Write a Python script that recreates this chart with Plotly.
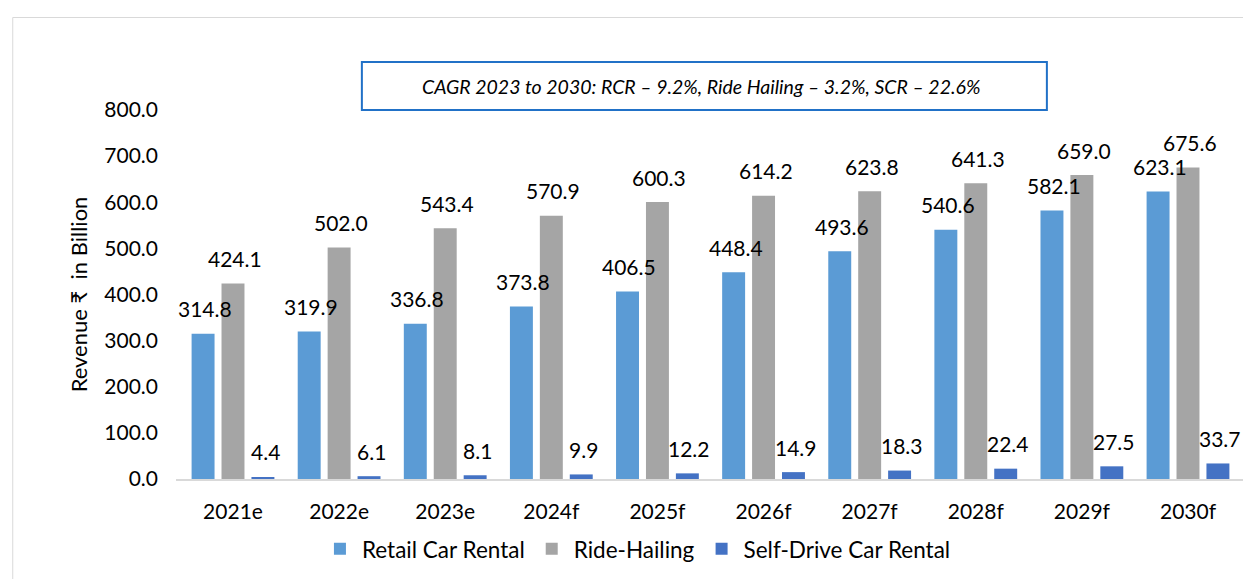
import plotly.graph_objects as go

years = ["2021e", "2022e", "2023e", "2024f", "2025f", "2026f", "2027f", "2028f", "2029f", "2030f"]
retail = [314.8, 319.9, 336.8, 373.8, 406.5, 448.4, 493.6, 540.6, 582.1, 623.1]
ride = [424.1, 502.0, 543.4, 570.9, 600.3, 614.2, 623.8, 641.3, 659.0, 675.6]
selfdrive = [4.4, 6.1, 8.1, 9.9, 12.2, 14.9, 18.3, 22.4, 27.5, 33.7]
series_names = ["Retail Car Rental", "Ride-Hailing", "Self-Drive Car Rental"]
y_ticks = [0, 100, 200, 300, 400, 500, 600, 700, 800]
cagr_text = "CAGR 2023 to 2030: RCR – 9.2%, Ride Hailing – 3.2%, SCR – 22.6%"

colors = ["#5B9BD5", "#A5A5A5", "#4472C4"]
FONT = "Lato, 'Open Sans', sans-serif"

fig = go.Figure()
all_series = [retail, ride, selfdrive]
for name, vals, col in zip(series_names, all_series, colors):
    fig.add_trace(go.Bar(x=years, y=vals, name=name, marker_color=col,
                         marker_line_width=0, hoverinfo="skip"))

annotations = []
shifts = [-30, 0, 30]
for vals, sh in zip(all_series, shifts):
    for yr, v in zip(years, vals):
        annotations.append(dict(x=yr, y=v, xref="x", yref="y", text=f"{v:.1f}",
                                showarrow=False, xshift=sh + 2, yshift=25,
                                yanchor="middle", xanchor="center",
                                font=dict(family=FONT, size=21, color="#000000")))

annotations.append(dict(x=0.4925, y=1.065, xref="paper", yref="paper", text=f"<i>{cagr_text}</i>",
                        showarrow=False, xanchor="center", yanchor="middle",
                        font=dict(family=FONT, size=19.5, color="#000000")))

# page body has an 8px margin: figure is sized/offset to compensate
fig.update_layout(
    width=1243, height=571,
    margin=dict(l=168, r=8, t=102, b=100),
    paper_bgcolor="white", plot_bgcolor="white",
    barmode="group", bargap=0.154, bargroupgap=0.233,
    font=dict(family=FONT, size=21, color="#000000"),
    showlegend=True,
    legend=dict(orientation="h", x=0.432, xanchor="center", y=-0.19, yanchor="middle",
                font=dict(family=FONT, size=22.5, color="#000000"), itemclick=False,
                itemwidth=34),
    annotations=annotations,
    shapes=[
        dict(type="rect", xref="paper", yref="paper", x0=-0.153, x1=1.02, y0=-0.30, y1=1.2507,
             line=dict(color="#D9D9D9", width=1), fillcolor="rgba(0,0,0,0)", layer="below"),
        dict(type="rect", xref="paper", yref="paper", x0=0.1742, x1=0.8162, y0=1.0, y1=1.130,
             line=dict(color="#2171C7", width=2), fillcolor="white"),
    ],
)
fig.update_xaxes(showline=True, linecolor="#D9D9D9", linewidth=1.5, showgrid=False,
                 ticks="", ticklabelstandoff=13, tickfont=dict(family=FONT, size=21))
fig.update_yaxes(range=[0, 800], tickvals=y_ticks, ticktext=[f"{t:.1f}" for t in y_ticks],
                 showgrid=False, showline=False, zeroline=False, ticks="",
                 ticklabelstandoff=17, tickfont=dict(family=FONT, size=21),
                 title=dict(text="Revenue ₹  in Billion", standoff=10,
                            font=dict(family=FONT, size=22)))

fig.write_html("out.html")
